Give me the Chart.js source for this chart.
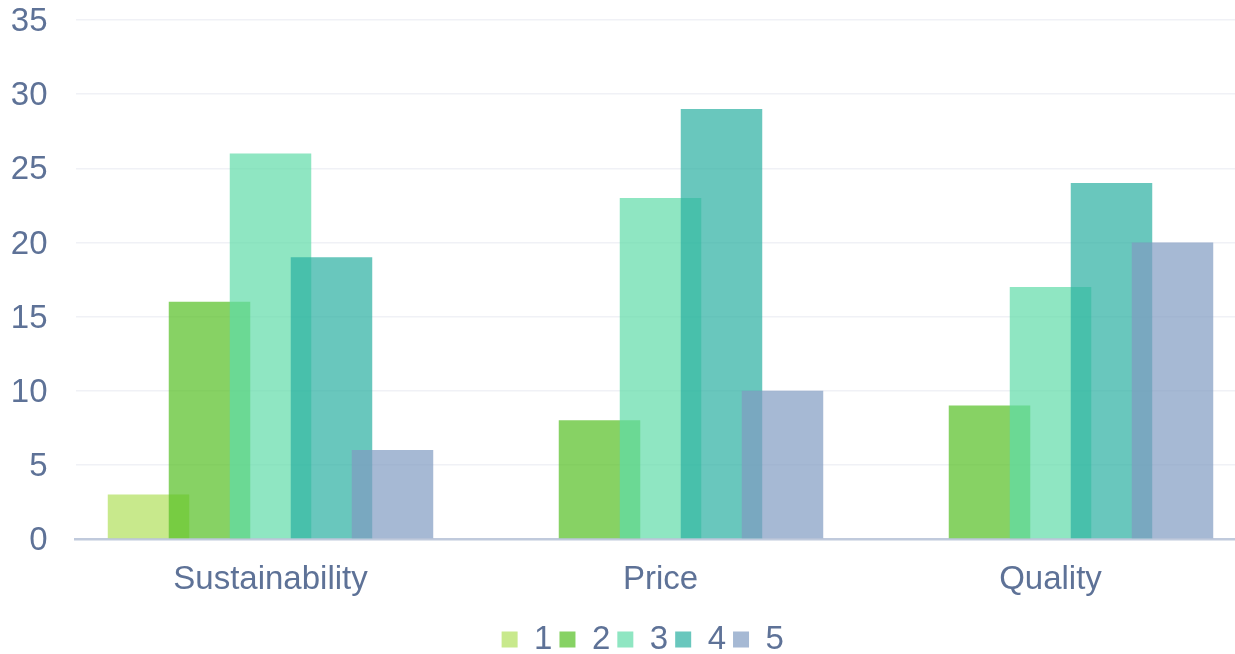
<!DOCTYPE html>
<html>
<head>
<meta charset="utf-8">
<script src="https://cdn.jsdelivr.net/npm/chart.js@4.4.1/dist/chart.umd.min.js"></script>
<style>
  html, body { margin: 0; padding: 0; background: #ffffff; overflow: hidden; }
  #wrap { position: absolute; left: 0; top: 0; width: 1280px; height: 666px; }
</style>
</head>
<body>
<div id="wrap"><canvas id="c"></canvas></div>
<script>
const categories = ['Sustainability', 'Price', 'Quality'];
const seriesNames = ['1', '2', '3', '4', '5'];
const series1 = [3, 0, 0];
const series2 = [16, 8, 9];
const series3 = [26, 23, 17];
const series4 = [19, 29, 24];
const series5 = [6, 10, 20];
const yTicks = [0, 5, 10, 15, 20, 25, 30, 35];

const colors = [
  'rgba(176,224,91,0.7)',
  'rgba(84,191,34,0.7)',
  'rgba(95,219,168,0.7)',
  'rgba(42,175,161,0.7)',
  'rgba(128,155,194,0.7)'
];
const allSeries = [series1, series2, series3, series4, series5];
const textColor = '#5e7297';
const fontFamily = '"Liberation Sans", Arial, sans-serif';

const drawInIndexOrder = {
  id: 'drawInIndexOrder',
  beforeDatasetsDraw(chart) {
    const metas = chart.getSortedVisibleDatasetMetas();
    for (const m of metas) m.controller.draw();
    return false;
  }
};

const shiftLegend = {
  id: 'shiftLegend',
  afterLayout(chart) {
    if (chart.legend) {
      chart.legend.left += 20;
      chart.legend.right += 20;
    }
  }
};

new Chart(document.getElementById('c'), {
  type: 'bar',
  data: {
    labels: categories,
    datasets: allSeries.map((d, i) => ({
      label: seriesNames[i],
      data: d,
      backgroundColor: colors[i],
      borderWidth: 0,
      categoryPercentage: 0.782,
      barPercentage: 1.336
    }))
  },
  plugins: [drawInIndexOrder, shiftLegend],
  options: {
    responsive: true,
    maintainAspectRatio: false,
    animation: false,
    layout: { padding: { left: 0, right: 34.5, top: 20, bottom: 0 } },
    plugins: {
      tooltip: { enabled: false },
      legend: {
        position: 'bottom',
        labels: {
          boxWidth: 16,
          boxHeight: 16,
          padding: 7,
          color: textColor,
          font: { family: fontFamily, size: 33 }
        }
      }
    },
    scales: {
      x: {
        grid: { display: false, drawTicks: false },
        border: { display: true, color: '#c0cadc', width: 2.5 },
        ticks: {
          color: textColor,
          padding: 21,
          font: { family: fontFamily, size: 33 }
        },
        afterFit(scale) { scale.height = 77; }
      },
      y: {
        min: 0,
        max: 35,
        afterBuildTicks(scale) { scale.ticks = yTicks.map(v => ({ value: v })); },
        grid: { color: '#f0f1f6', lineWidth: 1.5, drawTicks: false },
        border: { display: false },
        ticks: {
          color: textColor,
          padding: 28,
          labelOffset: 2,
          font: { family: fontFamily, size: 33 }
        },
        afterFit(scale) {
          scale.width = 75.5;
          scale.paddingTop = 0;
          scale.paddingBottom = 0;
        }
      }
    }
  }
});
</script>
</body>
</html>
